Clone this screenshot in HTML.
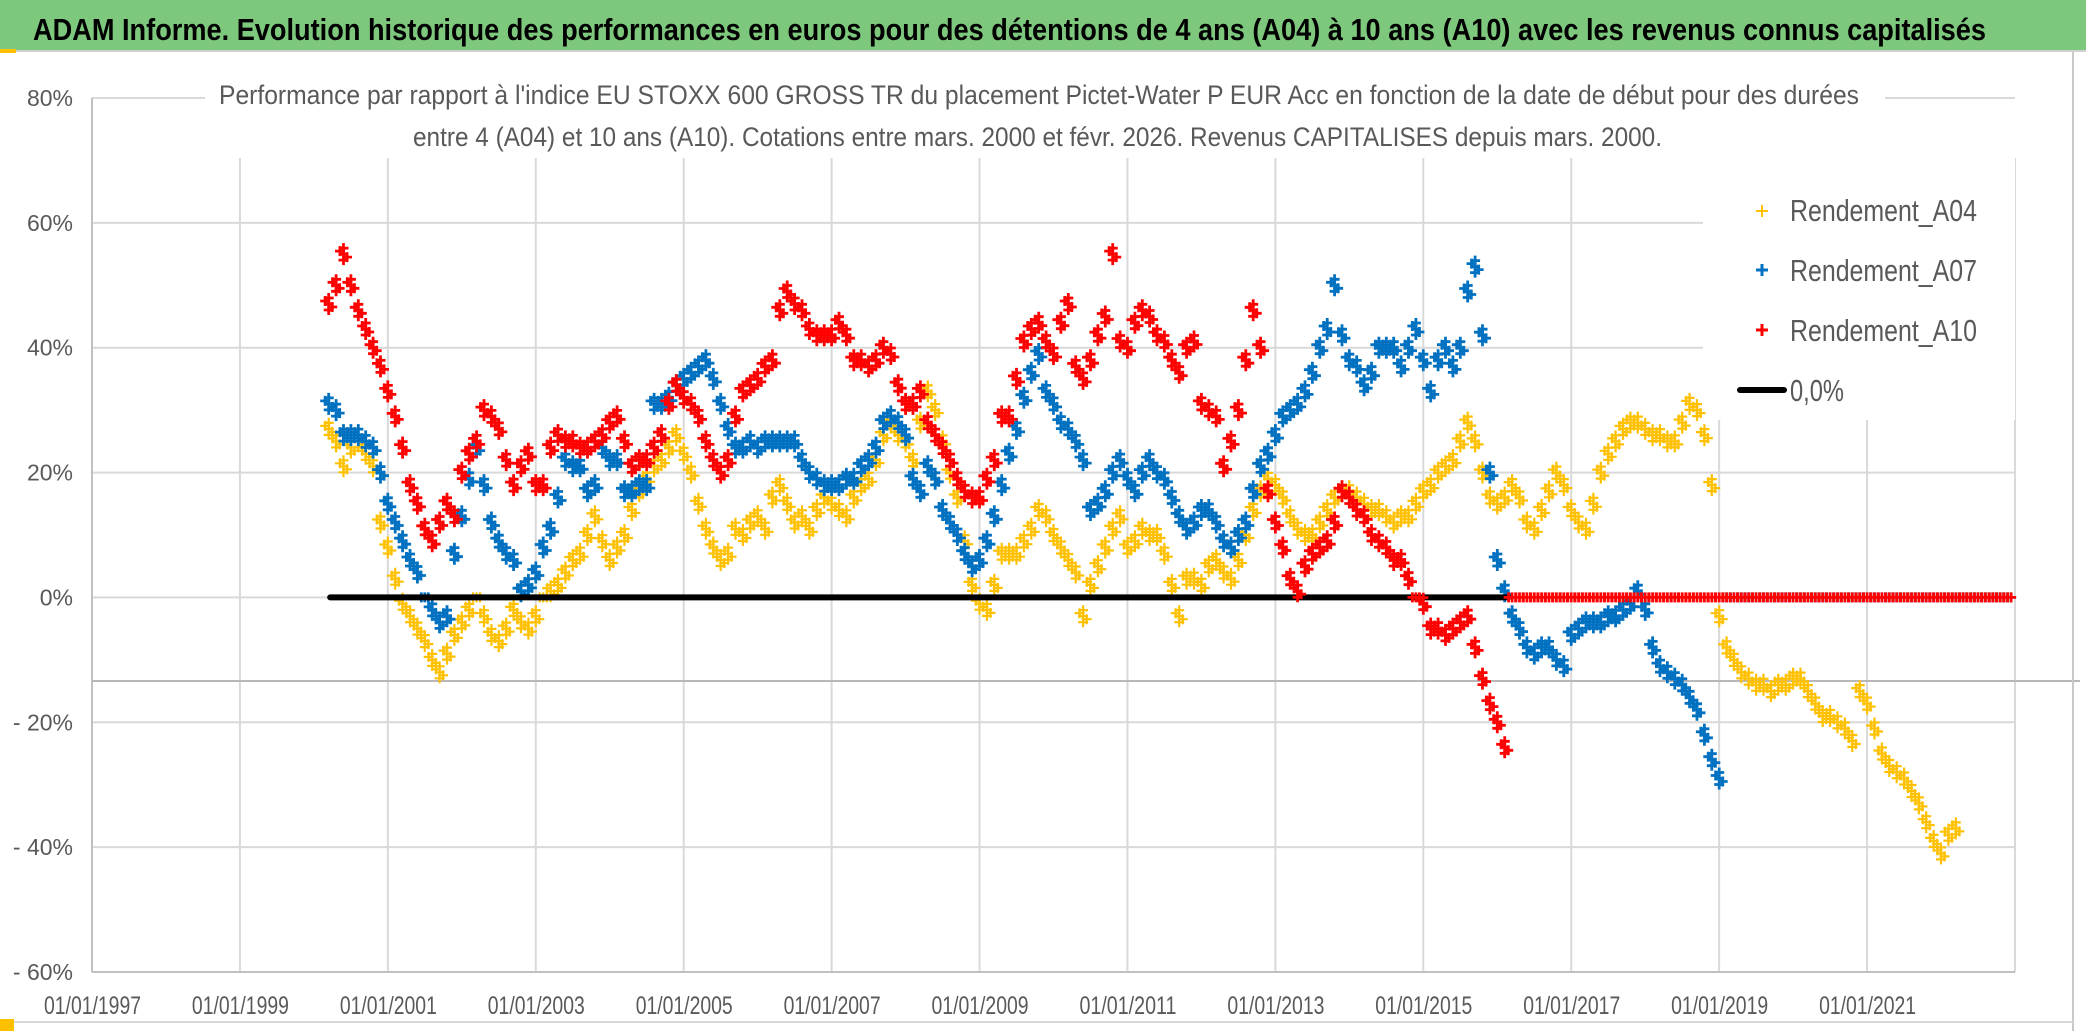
<!DOCTYPE html>
<html><head><meta charset="utf-8"><style>
html,body{margin:0;padding:0;background:#fff;}
svg{display:block;font-family:"Liberation Sans",sans-serif;}
</style></head><body>
<svg id="chart" width="2086" height="1031" viewBox="0 0 2086 1031" xmlns="http://www.w3.org/2000/svg">
<rect x="0" y="0" width="2086" height="1031" fill="#fff"/>
<rect x="0" y="0" width="2086" height="50" fill="#7ec87e"/>
<line x1="0" y1="51" x2="2086" y2="51" stroke="#d0d0d0" stroke-width="2"/>
<text x="33" y="40" font-size="31" font-weight="bold" fill="#000" textLength="1953" lengthAdjust="spacingAndGlyphs">ADAM Informe. Evolution historique des performances en euros pour des détentions de 4 ans (A04) à 10 ans (A10) avec les revenus connus capitalisés</text>
<g id="grid"></g>
<line x1="92" y1="681" x2="2080" y2="681" stroke="#b8b8b8" stroke-width="2"/>
<line x1="2073" y1="52" x2="2073" y2="1031" stroke="#c8c8c8" stroke-width="2"/>
<line x1="0" y1="1022" x2="2073" y2="1022" stroke="#d8d8d8" stroke-width="2"/>
<rect x="0" y="1019" width="14" height="12" fill="#ffc000"/>
<rect x="0" y="49" width="16" height="4" fill="#ffc000"/>
<g id="yticks"></g>
<g id="xticks"></g>
<rect x="205" y="60" width="1680" height="96" fill="#fff"/>
<text x="219" y="104" font-size="27" fill="#595959" textLength="1640" lengthAdjust="spacingAndGlyphs">Performance par rapport à l'indice EU STOXX 600 GROSS TR  du placement Pictet-Water P EUR Acc en fonction de la date de début pour des durées</text>
<text x="413" y="146" font-size="27" fill="#595959" textLength="1249" lengthAdjust="spacingAndGlyphs">entre 4 (A04) et 10 ans (A10). Cotations entre mars. 2000 et févr. 2026. Revenus CAPITALISES depuis mars. 2000.</text>
<rect x="1703" y="158" width="312" height="262" fill="#fff"/>
<g id="series"></g>
<g>
 <g>
  <path d="M1756 211h12M1762 205v12" stroke="#ffc000" stroke-width="2"/>
  <text x="1790" y="221" font-size="31" fill="#595959" textLength="187" lengthAdjust="spacingAndGlyphs">Rendement_A04</text>
 </g>
 <g>
  <path d="M1756 270h12M1762 264v12" stroke="#0070c0" stroke-width="3"/>
  <text x="1790" y="281" font-size="31" fill="#595959" textLength="187" lengthAdjust="spacingAndGlyphs">Rendement_A07</text>
 </g>
 <g>
  <path d="M1756 330h12M1762 324v12" stroke="#ff0000" stroke-width="3"/>
  <text x="1790" y="341" font-size="31" fill="#595959" textLength="187" lengthAdjust="spacingAndGlyphs">Rendement_A10</text>
 </g>
 <g>
  <line x1="1740" y1="390" x2="1784" y2="390" stroke="#000" stroke-width="6" stroke-linecap="round"/>
  <text x="1790" y="401" font-size="31" fill="#595959" textLength="54" lengthAdjust="spacingAndGlyphs">0,0%</text>
 </g>
</g>
</svg>
<script>
// ---- data ----
const startYear = 2000.2;
const stepYear = 0.1;
const yTickValues = [80, 60, 40, 20, 0, -20, -40, -60];
const yTickLabels = ["80%", "60%", "40%", "20%", "0%", "- 20%", "- 40%", "- 60%"];
const xTickYears = [1997, 1999, 2001, 2003, 2005, 2007, 2009, 2011, 2013, 2015, 2017, 2019, 2021, 2023];
const xTickLabels = ["01/01/1997","01/01/1999","01/01/2001","01/01/2003","01/01/2005","01/01/2007","01/01/2009","01/01/2011","01/01/2013","01/01/2015","01/01/2017","01/01/2019","01/01/2021",""];
const zeroLineYears = [2000.22, 2016.15];
const rendementA04 = [
 27,25,21,24,25,23,21,12,
 8,3,-1,-3,-5,-7,-10,-12,-9,-6,
 -4,-2,0,-3,-6,-7,-5,-2,-4,-5,
 -3,0,1,2,4,6,7,10,13,9,
 6,8,10,14,17,19,21,22,24,26,
 23,20,15,11,8,6,7,11,10,12,
 13,11,16,18,15,12,13,11,14,16,
 15,14,13,16,18,19,22,26,28,26,
 25,22,28,33,30,25,20,16,9,2,
 -1,-2,2,7,7,7,9,11,14,13,
 10,8,6,4,-3,2,5,8,11,13,
 8,9,11,10,10,7,2,-3,3,3,
 2,5,6,4,3,6,10,14,17,19,
 18,16,13,11,10,10,12,14,16,17,
 17,16,15,14,14,13,12,13,13,15,
 17,18,20,21,22,25,28,25,20,16,
 15,16,18,16,12,11,14,17,20,18,
 14,12,11,15,20,23,25,27,28,28,
 27,26,26,25,25,28,31,30,26,18,
 -3,-8,-10,-12,-13,-14,-14,-15,-14,-14,
 -13,-13,-15,-17,-19,-19,-20,-21,-23,-15,
 -17,-21,-25,-27,-28,-29,-31,-33,-36,-39,
 -41,-38,-37,0,0,0,0,0,0,0];
const rendementA07 = [
 31,30,26,26,26,25,24,20,
 15,12,9,6,4,0,-2,-4,-3,7,
 13,19,24,18,12,9,7,6,1,2,
 4,8,11,16,22,21,21,17,18,24,
 22,22,17,17,18,18,31,31,32,34,
 35,36,37,38,35,31,27,24,24,25,
 24,25,25,25,25,25,22,20,19,18,
 18,18,19,19,21,22,24,28,29,28,
 26,19,17,21,19,14,12,10,7,5,
 6,9,13,18,23,27,32,36,39,33,
 31,28,27,25,22,14,15,17,20,22,
 19,17,20,22,20,19,16,13,11,12,
 14,14,12,9,8,10,12,17,21,23,
 26,29,30,31,33,36,40,43,50,42,
 38,37,34,36,40,40,40,37,40,43,
 38,33,38,40,37,40,49,53,42,20,
 6,1,-3,-5,-8,-9,-8,-8,-10,-11,
 -6,-5,-4,-4,-4,-3,-3,-2,-1,1,
 -2,-8,-11,-12,-13,-14,-16,-18,-22,-26,
 -29,0,0,0,0,0,0,0,0,0,
 0,0,0,0,0,0,0,0,0,0,
 0,0,0,0,0,0,0,0,0,0,
 0,0,0,0,0,0,0,0,0,0];
const rendementA10 = [
 47,50,55,50,46,43,40,37,
 33,29,24,18,15,11,9,12,15,13,
 20,23,25,30,29,27,22,18,21,23,
 18,18,24,26,25,25,24,24,25,26,
 28,29,25,21,22,22,24,26,31,34,
 32,31,29,25,22,20,22,29,33,34,
 35,37,38,46,49,47,46,43,42,42,
 42,44,42,38,38,37,38,40,39,34,
 31,31,33,28,26,24,22,19,17,16,
 16,19,22,29,29,35,41,43,44,41,
 39,44,47,37,35,38,42,45,55,41,
 40,44,46,45,42,41,38,36,40,41,
 31,30,29,21,25,30,38,46,40,17,
 12,8,3,1,5,7,8,9,12,17,
 16,14,13,10,9,8,6,6,3,0,
 -1,-5,-5,-6,-5,-4,-3,-8,-13,-17,
 -20,-24,0,0,0,0,0,0,0,0,
 0,0,0,0,0,0,0,0,0,0,
 0,0,0,0,0,0,0,0,0,0,
 0,0,0,0,0,0,0,0,0,0,
 0,0,0,0,0,0,0,0,0,0,
 0,0,0,0,0,0,0,0,0,0,
 0,0,0,0,0,0,0,0,0,0];

// ---- axes ----
const NS = "http://www.w3.org/2000/svg";
const plotLeft = 92, plotRight = 2015, plotTop = 98, plotBottom = 972;
const yearMin = 1997, yearMax = 2023, vMin = -60, vMax = 80;
function xScale(yr){ return plotLeft + (yr - yearMin) / (yearMax - yearMin) * (plotRight - plotLeft); }
function yScale(v){ return plotBottom - (v - vMin) / (vMax - vMin) * (plotBottom - plotTop); }
function mk(tag, attrs, parent){
  const el = document.createElementNS(NS, tag);
  for (const k in attrs) el.setAttribute(k, attrs[k]);
  parent.appendChild(el);
  return el;
}
const grid = document.getElementById('grid');
yTickValues.forEach(v => {
  const ln = mk('line', {x1: plotLeft, x2: plotRight, y1: yScale(v), y2: yScale(v), stroke: '#d9d9d9', 'stroke-width': 2}, grid);
  
  
});
xTickYears.forEach(yr => {
  const ln = mk('line', {x1: xScale(yr), x2: xScale(yr), y1: 158, y2: plotBottom, stroke: '#d9d9d9', 'stroke-width': 2}, grid);
  
  
});
const axisL = mk('line', {x1: plotLeft, x2: plotLeft, y1: plotTop, y2: plotBottom, stroke: '#c0c0c0', 'stroke-width': 2}, grid);


const axisB = mk('line', {x1: plotLeft, x2: plotRight, y1: plotBottom, y2: plotBottom, stroke: '#c0c0c0', 'stroke-width': 2}, grid);



const yt = document.getElementById('yticks');
yTickValues.forEach((v, i) => {
  const t = mk('text', {x: 73, y: yScale(v) + 8, 'font-size': 23, fill: '#595959', 'text-anchor': 'end'}, yt);
  t.textContent = yTickLabels[i];
  
  
});
const xt = document.getElementById('xticks');
xTickYears.forEach((yr, i) => {
  if (!xTickLabels[i]) return;
  const t = mk('text', {x: xScale(yr) - 48, y: 1014, 'font-size': 25, fill: '#595959', textLength: 97, lengthAdjust: 'spacingAndGlyphs'}, xt);
  t.textContent = xTickLabels[i];
  
  
});

// ---- series ----
const sg = document.getElementById('series');
// marker cluster pattern (visual thickness only)
const clusterDx = [0, -3.5, 3.5, 0, 0];
const clusterDy = [0, -3, 3, -6, 6];
function drawSeries(values, color, sw, name){
  const g = mk('g', {stroke: color, 'stroke-width': sw, fill: 'none'}, sg);
  
  
  let d = '';
  values.forEach((v, i) => {
    const x0 = xScale(startYear + i * stepYear), y0 = yScale(v);
    const n = v === 0 ? 3 : clusterDx.length;
    for (let k = 0; k < n; k++) {
      const x = x0 + clusterDx[k], y = y0 + (v === 0 ? 0 : clusterDy[k]);
      d += 'M' + (x - 5).toFixed(1) + ' ' + y.toFixed(1) + 'h10M' + x.toFixed(1) + ' ' + (y - 5).toFixed(1) + 'v10';
    }
  });
  const p = mk('path', {d: d}, g);
  
  
}
drawSeries(rendementA04, '#ffc000', 2.2, 'series-rendement-a04');
drawSeries(rendementA07, '#0070c0', 2.8, 'series-rendement-a07');
const zl = mk('line', {x1: xScale(zeroLineYears[0]), x2: xScale(zeroLineYears[1]), y1: yScale(0), y2: yScale(0), stroke: '#000', 'stroke-width': 6, 'stroke-linecap': 'round'}, sg);


drawSeries(rendementA10, '#ff0000', 2.8, 'series-rendement-a10');
</script>
</body></html>
